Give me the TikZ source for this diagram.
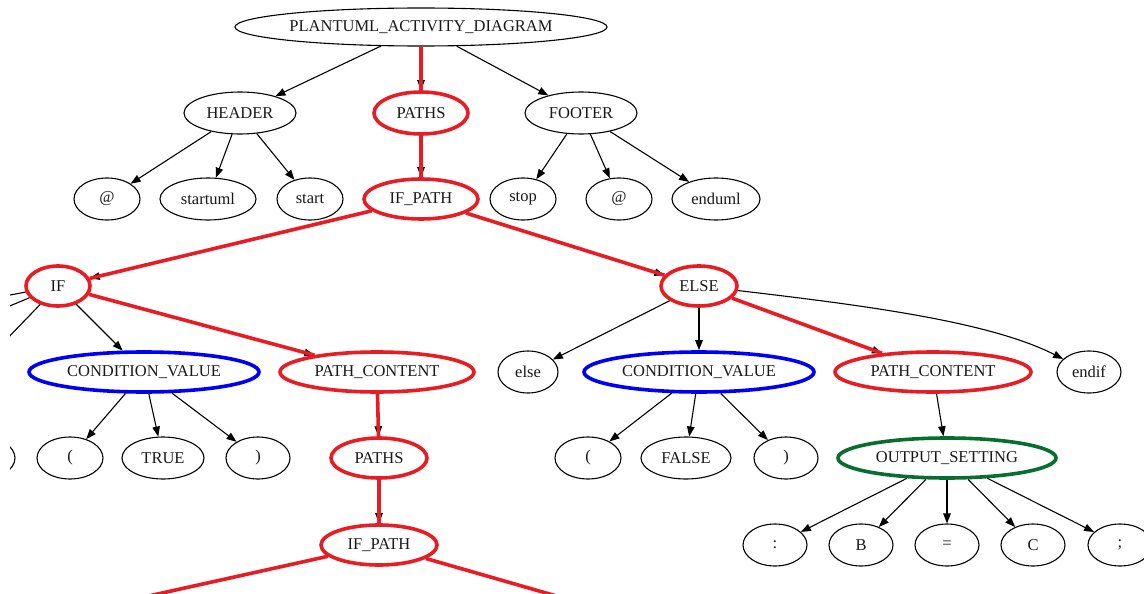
\documentclass[tikz,border=0pt]{standalone}
\usepackage{fontspec}
\setmainfont{Liberation Serif}
\usetikzlibrary{shapes.geometric,arrows.meta}
\definecolor{hlred}{RGB}{232,28,36}
\definecolor{hlblue}{RGB}{0,0,250}
\definecolor{hlgreen}{RGB}{8,110,48}
\tikzset{
  nd/.style={ellipse, draw=black, line width=1.1pt, inner sep=0pt,
    font=\fontsize{16.5}{18}\selectfont, text=black!90},
  sz/.style 2 args={minimum width=#1pt, minimum height=#2pt},
  redn/.style={draw=hlred, line width=3.6pt},
  bluen/.style={draw=hlblue, line width=3.6pt},
  greenn/.style={draw=hlgreen, line width=3.6pt},
  arr/.style={draw=black, line width=1.1pt, -{Triangle[length=10pt,width=7.5pt]}},
  redline/.style={draw=hlred, line width=3.6pt},
}
\newcommand{\hledge}[2]{\draw[arr] (#1) -- (#2); \draw[redline] (#1) -- (#2);}
\begin{document}
\begin{tikzpicture}[x=1pt,y=-1pt]
\useasboundingbox (0,0) rectangle (1144,594);
\fill[white] (0,0) rectangle (1144,594);
\clip (10,0) rectangle (1144,594);

% level 1
\node[nd, sz={372}{38}] (root) at (421,27) {PLANTUML\_ACTIVITY\_DIAGRAM};
% level 2
\node[nd, sz={112}{42}] (header) at (240,113) {HEADER};
\node[nd, redn, sz={94}{42}] (paths) at (421,113) {PATHS};
\node[nd, sz={112}{42}] (footer) at (581,113) {FOOTER};
% level 3
\node[nd, sz={66}{42}] (at1) at (107,199) {@};
\node[nd, sz={96}{42}] (startuml) at (208,199) {startuml};
\node[nd, sz={66}{42}] (start) at (310,199) {start};
\node[nd, redn, sz={114}{40}] (ifpath) at (421,199) {IF\_PATH};
\node[nd, sz={66}{42}] (stop) at (523,199) {stop};
\node[nd, sz={66}{42}] (at2) at (619,199) {@};
\node[nd, sz={88}{42}] (enduml) at (716,199) {enduml};
% level 4
\node[nd, redn, sz={64}{40}] (if) at (58,286) {IF};
\node[nd, redn, sz={76}{40}] (else) at (699,286) {ELSE};
\coordinate (ifa) at (-400,372);
\coordinate (ifb) at (-150,372);
\coordinate (ifc) at (-25,372);
% level 5
\node[nd, bluen, sz={230}{40}] (cvl) at (144,372) {CONDITION\_VALUE};
\node[nd, redn, sz={194}{40}] (pcl) at (377,372) {PATH\_CONTENT};
\node[nd, sz={60}{42}] (elsekw) at (528,372) {else};
\node[nd, bluen, sz={230}{40}] (cvr) at (699,372) {CONDITION\_VALUE};
\node[nd, redn, sz={196}{40}] (pcr) at (933,372) {PATH\_CONTENT};
\node[nd, sz={64}{42}] (endif) at (1089,372) {endif};
% level 6 (the leftmost leaf lies mostly outside the frame)
\node[nd, sz={66}{42}] (leafx) at (-18,458) {};
\node[nd, sz={66}{42}] (lp1) at (70,458) {(};
\node[nd, sz={82}{42}] (true) at (163,458) {TRUE};
\node[nd, sz={64}{42}] (rp1) at (258,458) {)};
\node[nd, redn, sz={96}{40}] (paths2) at (379,458) {PATHS};
\node[nd, sz={66}{42}] (lp2) at (588,458) {(};
\node[nd, sz={90}{42}] (false) at (686,458) {FALSE};
\node[nd, sz={64}{42}] (rp2) at (786,458) {)};
\node[nd, greenn, sz={218}{40}] (out) at (947,458) {OUTPUT\_SETTING};
% level 7
\node[nd, redn, sz={116}{40}] (ifpath2) at (379,545) {IF\_PATH};
\node[nd, sz={64}{42}] (colon) at (775,545) {:};
\node[nd, sz={64}{42}] (b) at (861,545) {B};
\node[nd, sz={64}{42}] (eq) at (947,545) {=};
\node[nd, sz={64}{42}] (c) at (1033,545) {C};
\node[nd, sz={64}{42}] (semi) at (1120,545) {;};
\coordinate (ipl) at (40,620);
\coordinate (ipr) at (640,620);

% connectors
\draw[arr] (root) -- (header);
\hledge{root}{paths}
\draw[arr] (root) -- (footer);
\draw[arr] (header) -- (at1);
\draw[arr] (header) -- (startuml);
\draw[arr] (header) -- (start);
\hledge{paths}{ifpath}
\draw[arr] (footer) -- (stop);
\draw[arr] (footer) -- (at2);
\draw[arr] (footer) -- (enduml);
\hledge{ifpath}{if}
\hledge{ifpath}{else}
\draw[arr] (if) -- (ifa);
\draw[arr] (if) -- (ifb);
\draw[arr] (if) -- (ifc);
\draw[arr] (if) -- (cvl);
\hledge{if}{pcl}
\draw[arr] (cvl) -- (lp1);
\draw[arr] (cvl) -- (true);
\draw[arr] (cvl) -- (rp1);
\hledge{pcl}{paths2}
\hledge{paths2}{ifpath2}
\draw[redline] (ifpath2) -- (ipl);
\draw[redline] (ifpath2) -- (ipr);
\draw[arr] (else) -- (elsekw);
\draw[arr] (else) -- (cvr);
\hledge{else}{pcr}
\draw[arr] (else) .. controls (870,306) and (990,322) .. (endif);
\draw[arr] (cvr) -- (lp2);
\draw[arr] (cvr) -- (false);
\draw[arr] (cvr) -- (rp2);
\draw[arr] (pcr) -- (out);
\draw[arr] (out) -- (colon);
\draw[arr] (out) -- (b);
\draw[arr] (out) -- (eq);
\draw[arr] (out) -- (c);
\draw[arr] (out) -- (semi);
\end{tikzpicture}
\end{document}
